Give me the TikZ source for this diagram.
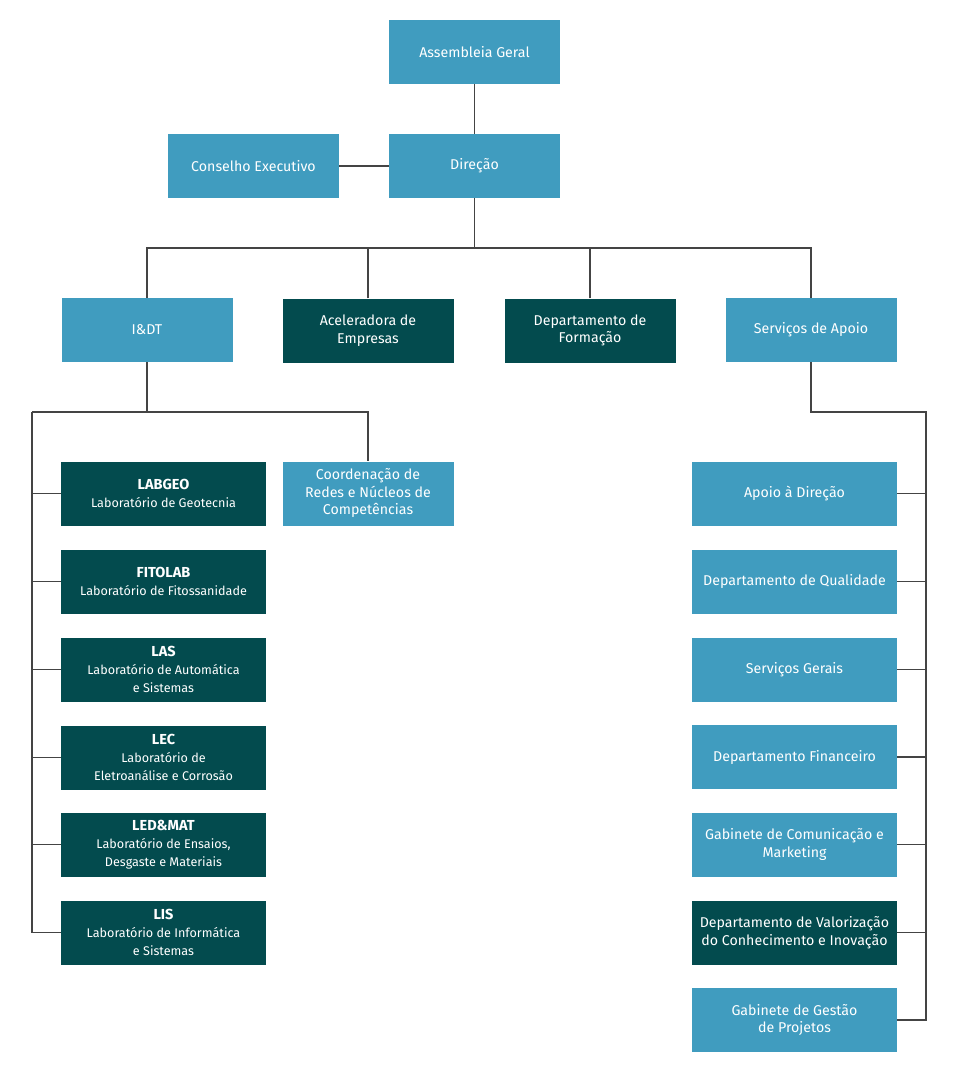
\documentclass[tikz,border=0pt]{standalone}
\usepackage{fontspec}
\setmainfont{Fira Sans}
\definecolor{lblue}{HTML}{409CBF}
\definecolor{dteal}{HTML}{034B4E}
\definecolor{lgray}{HTML}{444444}
\begin{document}
\begin{tikzpicture}[x=1pt,y=-1pt,
  box/.style={minimum width=171pt,minimum height=64pt,inner sep=2pt,align=center,text=white,font=\fontsize{14.2}{17.5}\selectfont},
  wbox/.style={box,minimum width=205pt},
  labbox/.style={wbox,font=\fontsize{12.6}{18}\selectfont},
  lb/.style={fill=lblue},
  dk/.style={fill=dteal},
  con/.style={draw=lgray,line width=1.8pt},
]
\useasboundingbox[fill=white] (0,0) rectangle (960,1068);
\newcommand{\lab}[1]{{\fontsize{14.5}{18}\selectfont\bfseries #1}}
% top
\node[box,lb] (ag) at (474.5,52) {Assembleia Geral};
\node[box,lb] (dir) at (474.5,166) {Direção};
\node[box,lb] (ce) at (253.5,166) {Conselho Executivo};
% row 2
\node[box,lb] (idt) at (147,330) {I\&DT};
\node[box,dk] (ace) at (368,330.5) {Aceleradora de\\Empresas};
\node[box,dk] (form) at (590,330.5) {Departamento de\\Formação};
\node[box,lb] (sa) at (811,330) {Serviços de Apoio};
% I&DT children
\node[box,lb] (coord) at (368,493.5) {Coordenação de\\Redes e Núcleos de\\Competências};
\node[labbox,dk] (l1) at (163.5,493.5) {\lab{LABGEO}\\Laboratório de Geotecnia};
\node[labbox,dk] (l2) at (163.5,581.5) {\lab{FITOLAB}\\Laboratório de Fitossanidade};
\node[labbox,dk] (l3) at (163.5,669.5) {\lab{LAS}\\Laboratório de Automática\\e Sistemas};
\node[labbox,dk] (l4) at (163.5,757.5) {\lab{LEC}\\Laboratório de\\Eletroanálise e Corrosão};
\node[labbox,dk] (l5) at (163.5,844.5) {\lab{LED\&MAT}\\Laboratório de Ensaios,\\Desgaste e Materiais};
\node[labbox,dk] (l6) at (163.5,932.5) {\lab{LIS}\\Laboratório de Informática\\e Sistemas};
% Servicos children
\node[wbox,lb] (s1) at (794.5,493.5) {Apoio à Direção};
\node[wbox,lb] (s2) at (794.5,581.5) {Departamento de Qualidade};
\node[wbox,lb] (s3) at (794.5,669.5) {Serviços Gerais};
\node[wbox,lb] (s4) at (794.5,757) {Departamento Financeiro};
\node[wbox,lb] (s5) at (794.5,844.5) {Gabinete de Comunicação e\\Marketing};
\node[wbox,dk] (s6) at (794.5,932.5) {Departamento de Valorização\\do Conhecimento e Inovação};
\node[wbox,lb] (s7) at (794.5,1020) {Gabinete de Gestão\\de Projetos};
% bus coordinates
\coordinate (b1) at (474.5,248);
\coordinate (b2) at (147,412);
\coordinate (b2l) at (32,412);
\coordinate (b3) at (811,412);
\coordinate (b3r) at (926,412);
% connectors
\draw[con] (ag) -- (dir);
\draw[con] (ce) -- (dir);
\draw[con] (dir) -- (b1);
\draw[con] (idt.north) |- (b1) -| (sa.north);
\draw[con] (ace.north) -- (ace.north |- b1);
\draw[con] (form.north) -- (form.north |- b1);
\draw[con] (idt.south) -- (b2);
\draw[con] (b2l) -| (coord.north);
\draw[con] (b2l) |- (l6.west);
\foreach \n in {l1,l2,l3,l4,l5} \draw[con] (\n.west) -- (\n.west -| b2l);
\draw[con] (sa.south) -- (b3) -- (b3r) |- (s7.east);
\foreach \n in {s1,s2,s3,s4,s5,s6} \draw[con] (\n.east) -- (\n.east -| b3r);
\end{tikzpicture}
\end{document}
